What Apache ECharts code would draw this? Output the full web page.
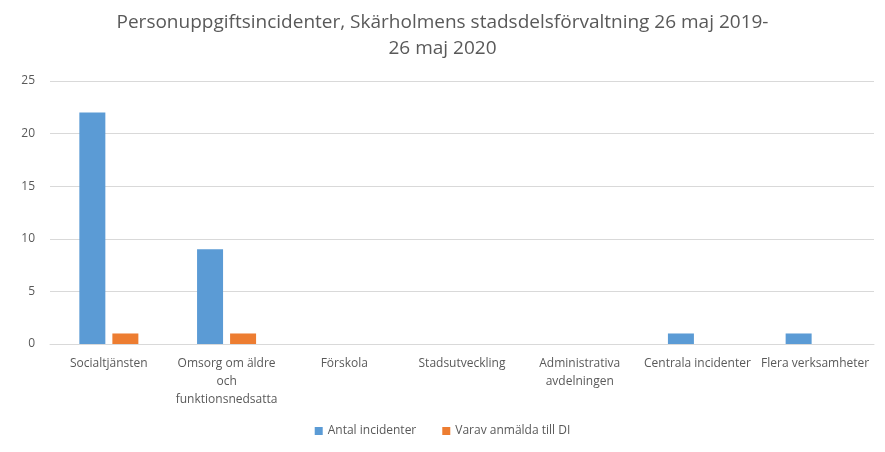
<!DOCTYPE html>
<html><head><meta charset="utf-8">
<script src="https://cdn.jsdelivr.net/npm/echarts@6/dist/echarts.min.js"></script>
<style>html,body{margin:0;padding:0;background:#fff}#c{width:885px;height:452px}</style>
</head><body><div id="c"></div>
<script>
const categories = ["Socialtjänsten", "Omsorg om äldre\noch\nfunktionsnedsatta", "Förskola", "Stadsutveckling", "Administrativa\navdelningen", "Centrala incidenter", "Flera verksamheter"];
const antalIncidenter = [22, 9, 0, 0, 0, 1, 1];
const varavAnmalda = [1, 1, 0, 0, 0, 0, 0];
const yTicks = [0, 5, 10, 15, 20, 25];
const titleText = "Personuppgiftsincidenter, Skärholmens stadsdelsförvaltning 26 maj 2019-\n26 maj 2020";

const font = "'Open Sans', 'Noto Sans', sans-serif";
const chart = echarts.init(document.getElementById('c'));
chart.setOption({
  animation: false,
  title: {
    text: titleText, left: 'center', top: 5,
    textStyle: {fontFamily: font, fontSize: 19, fontWeight: 'normal', color: '#595959', lineHeight: 26}
  },
  legend: {
    bottom: 10, left: 'center', itemWidth: 8, itemHeight: 8, itemGap: 26,
    icon: 'rect',
    textStyle: {fontFamily: font, fontSize: 12, color: '#595959'}
  },
  grid: {left: 50, right: 11, top: 81, bottom: 108, containLabel: false},
  xAxis: {
    type: 'category', data: categories,
    axisTick: {show: false},
    axisLine: {lineStyle: {color: '#d9d9d9'}},
    axisLabel: {fontFamily: font, fontSize: 12, color: '#595959', interval: 0, lineHeight: 18, margin: 11}
  },
  yAxis: {
    type: 'value', min: yTicks[0], max: yTicks[yTicks.length - 1], interval: 5,
    axisLabel: {fontFamily: font, fontSize: 12, color: '#595959', margin: 15},
    splitLine: {lineStyle: {color: '#d9d9d9'}},
    axisLine: {show: false}, axisTick: {show: false}
  },
  series: [
    {name: 'Antal incidenter', type: 'bar', data: antalIncidenter, barWidth: 26, barGap: '27%', itemStyle: {color: '#5b9bd5'}},
    {name: 'Varav anmälda till DI', type: 'bar', data: varavAnmalda, barWidth: 26, itemStyle: {color: '#ed7d31'}}
  ]
});
</script></body></html>
